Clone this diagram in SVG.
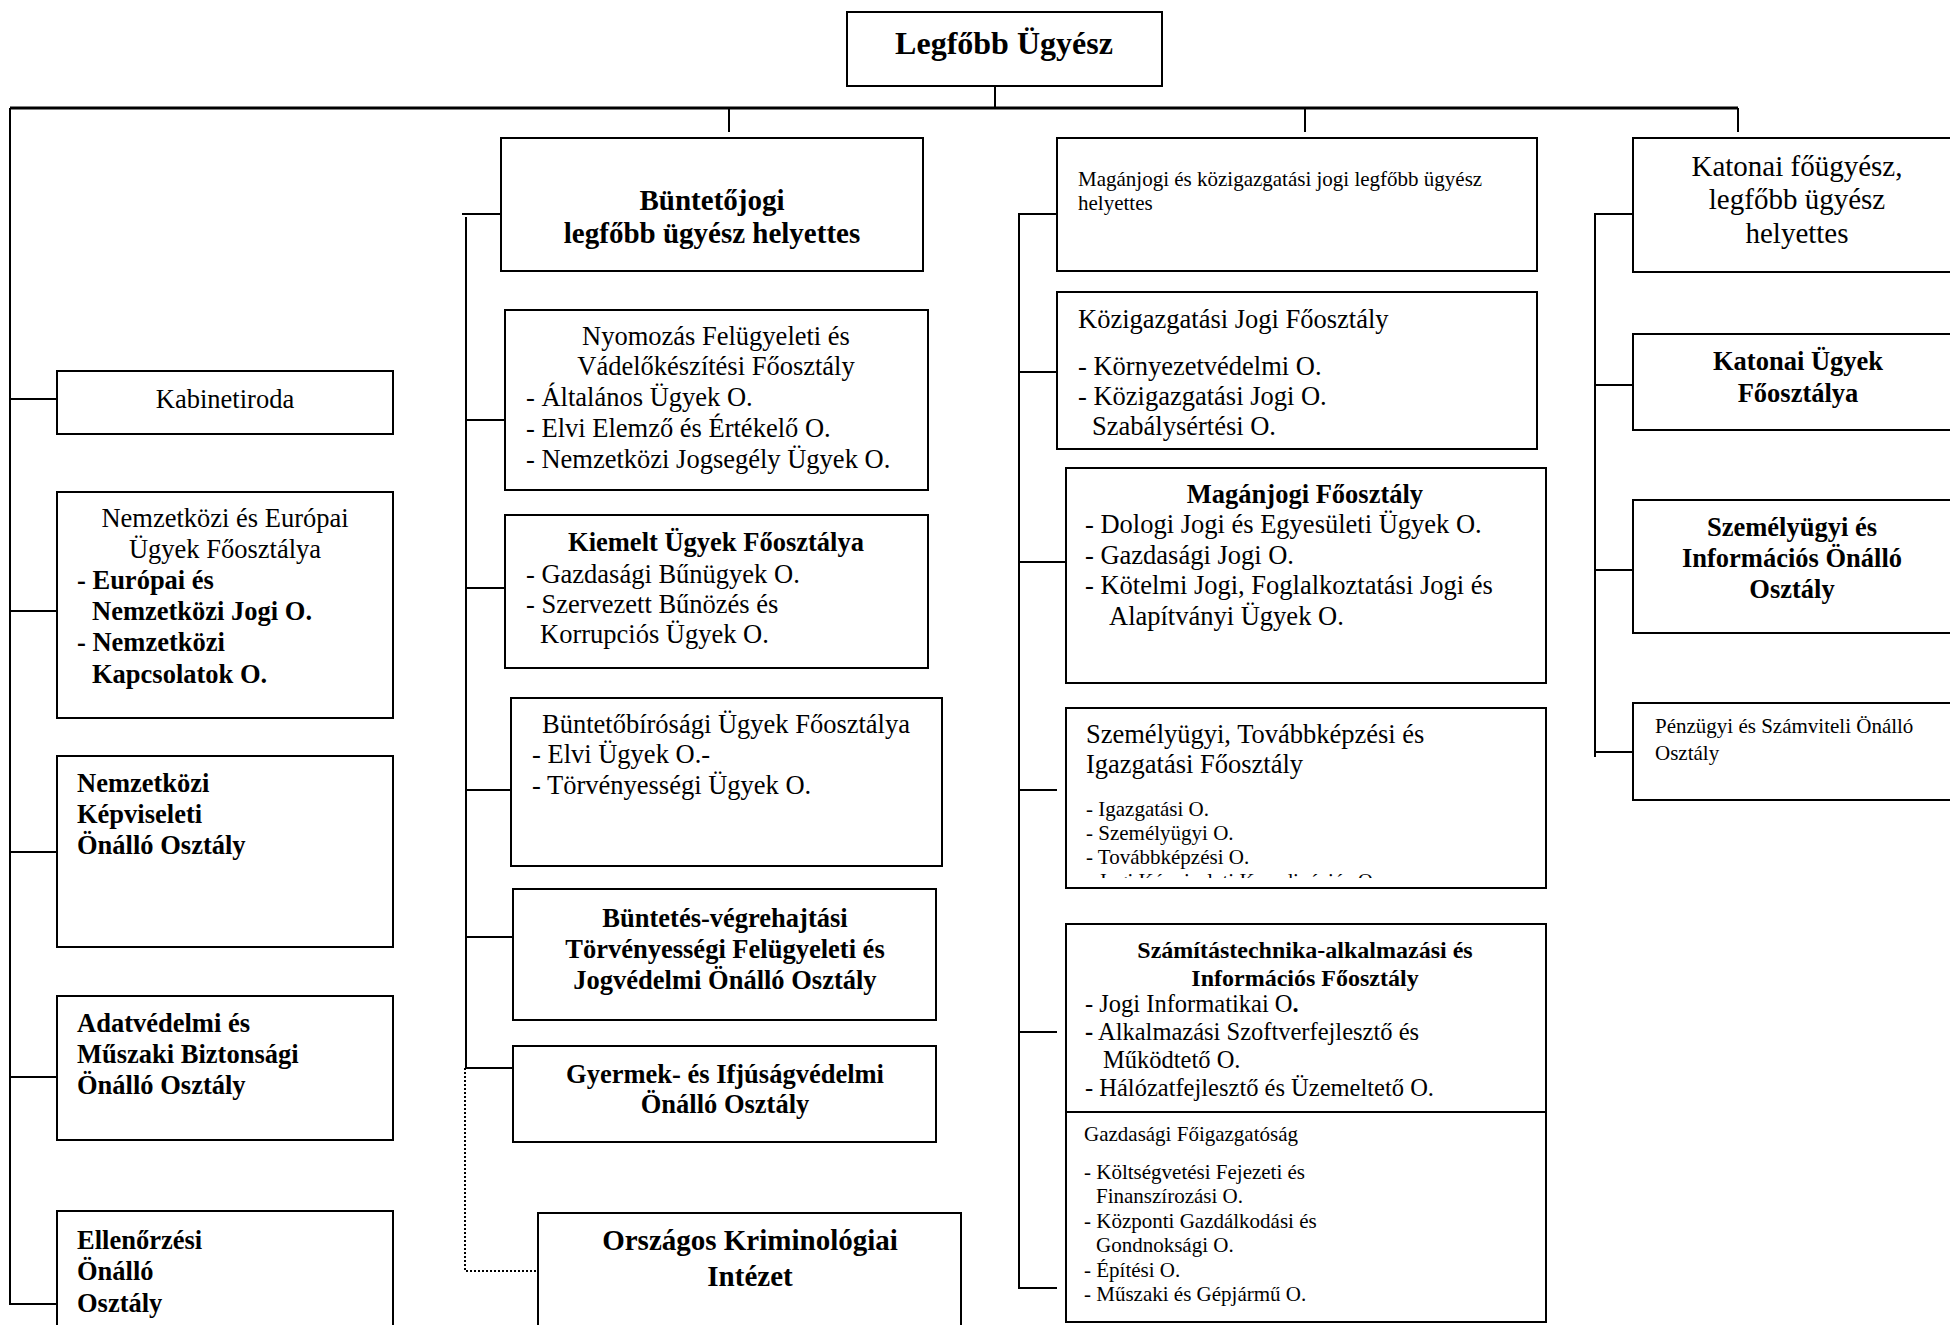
<svg xmlns="http://www.w3.org/2000/svg" width="1950" height="1325" viewBox="0 0 1950 1325">
<style>
.box{fill:#fff;stroke:#000;stroke-width:2}
.ln{stroke:#000;stroke-width:2;fill:none}
.bus{stroke:#000;stroke-width:3;fill:none}
.dot{stroke:#000;stroke-width:2;fill:none;stroke-dasharray:2 2}
text{font-family:"Liberation Serif","Times New Roman",serif;font-size:26.5px;fill:#000}
.b{font-weight:bold}
.c{text-anchor:middle}
.s{font-size:21px}
.m{font-size:24.5px}
.l{font-size:29px}
</style>
<defs>
<clipPath id="clipSzem"><rect x="1066" y="700" width="480" height="178"/></clipPath>
</defs>
<rect width="1950" height="1325" fill="#fff"/>

<g id="connectors">
<line class="ln" x1="995" y1="86" x2="995" y2="108"/>
<line class="bus" x1="10" y1="108" x2="1738" y2="108"/>
<line class="ln" x1="729" y1="108" x2="729" y2="132"/>
<line class="ln" x1="1305" y1="108" x2="1305" y2="132"/>
<line class="ln" x1="1738" y1="108" x2="1738" y2="132"/>
<polyline class="ln" points="10,108 10,1304 57,1304"/>
<line class="ln" x1="10" y1="399" x2="57" y2="399"/>
<line class="ln" x1="10" y1="611" x2="57" y2="611"/>
<line class="ln" x1="10" y1="852" x2="57" y2="852"/>
<line class="ln" x1="10" y1="1077" x2="57" y2="1077"/>
<line class="ln" x1="462" y1="214" x2="501" y2="214"/>
<polyline class="ln" points="466,217 466,1068 513,1068"/>
<line class="ln" x1="466" y1="420" x2="505" y2="420"/>
<line class="ln" x1="466" y1="588" x2="505" y2="588"/>
<line class="ln" x1="466" y1="790" x2="513" y2="790"/>
<line class="ln" x1="466" y1="937" x2="513" y2="937"/>
<polyline class="dot" points="465,1068 465,1271 538,1271"/>
<polyline class="ln" points="1057,214 1019,214 1019,1288 1057,1288"/>
<line class="ln" x1="1019" y1="372" x2="1057" y2="372"/>
<line class="ln" x1="1019" y1="562" x2="1066" y2="562"/>
<line class="ln" x1="1019" y1="790" x2="1057" y2="790"/>
<line class="ln" x1="1019" y1="1032" x2="1057" y2="1032"/>
<polyline class="ln" points="1633,214 1595,214 1595,757"/>
<line class="ln" x1="1595" y1="385" x2="1633" y2="385"/>
<line class="ln" x1="1595" y1="570" x2="1633" y2="570"/>
<line class="ln" x1="1595" y1="752" x2="1633" y2="752"/>
</g>

<g id="legfobb-ugyesz">
<rect class="box" x="847" y="12" width="315" height="74"/>
<text class="b c" x="1004" y="54" style="font-size:32px">Legfőbb Ügyész</text>
</g>

<g id="kabinetiroda">
<rect class="box" x="57" y="371" width="336" height="63"/>
<text class="c" x="225" y="408">Kabinetiroda</text>
</g>
<g id="nemzetkozi-europai">
<rect class="box" x="57" y="492" width="336" height="226"/>
<text class="c" x="225" y="527">Nemzetközi és Európai</text>
<text class="c" x="225" y="558">Ügyek Főosztálya</text>
<text class="b" x="77" y="589">- Európai és</text>
<text class="b" x="92" y="620">Nemzetközi Jogi O.</text>
<text class="b" x="77" y="651">- Nemzetközi</text>
<text class="b" x="92" y="683">Kapcsolatok O.</text>
</g>
<g id="nemzetkozi-kepviseleti">
<rect class="box" x="57" y="756" width="336" height="191"/>
<text class="b" x="77" y="792">Nemzetközi</text>
<text class="b" x="77" y="823">Képviseleti</text>
<text class="b" x="77" y="854">Önálló Osztály</text>
</g>
<g id="adatvedelmi">
<rect class="box" x="57" y="996" width="336" height="144"/>
<text class="b" x="77" y="1032">Adatvédelmi és</text>
<text class="b" x="77" y="1063">Műszaki Biztonsági</text>
<text class="b" x="77" y="1094">Önálló Osztály</text>
</g>
<g id="ellenorzesi">
<rect class="box" x="57" y="1211" width="336" height="130"/>
<text class="b" x="77" y="1249">Ellenőrzési</text>
<text class="b" x="77" y="1280">Önálló</text>
<text class="b" x="77" y="1312">Osztály</text>
</g>

<g id="buntetojogi-helyettes">
<rect class="box" x="501" y="138" width="422" height="133"/>
<text class="b c l" x="712" y="210">Büntetőjogi</text>
<text class="b c l" x="712" y="243">legfőbb ügyész helyettes</text>
</g>
<g id="nyomozas">
<rect class="box" x="505" y="310" width="423" height="180"/>
<text class="c" x="716" y="345">Nyomozás Felügyeleti és</text>
<text class="c" x="716" y="375">Vádelőkészítési Főosztály</text>
<text x="526" y="406">- Általános Ügyek O.</text>
<text x="526" y="437">- Elvi Elemző és Értékelő O.</text>
<text x="526" y="468">- Nemzetközi Jogsegély Ügyek O.</text>
</g>
<g id="kiemelt">
<rect class="box" x="505" y="515" width="423" height="153"/>
<text class="b c" x="716" y="551">Kiemelt Ügyek Főosztálya</text>
<text x="526" y="583">- Gazdasági Bűnügyek O.</text>
<text x="526" y="613">- Szervezett Bűnözés és</text>
<text x="540" y="643">Korrupciós Ügyek O.</text>
</g>
<g id="buntetobirosagi">
<rect class="box" x="511" y="698" width="431" height="168"/>
<text x="542" y="733">Büntetőbírósági Ügyek Főosztálya</text>
<text x="532" y="763">- Elvi Ügyek O.-</text>
<text x="532" y="794">- Törvényességi Ügyek O.</text>
</g>
<g id="buntetes-vegrehajtasi">
<rect class="box" x="513" y="889" width="423" height="131"/>
<text class="b c" x="725" y="927">Büntetés-végrehajtási</text>
<text class="b c" x="725" y="958">Törvényességi Felügyeleti és</text>
<text class="b c" x="725" y="989">Jogvédelmi Önálló Osztály</text>
</g>
<g id="gyermek">
<rect class="box" x="513" y="1046" width="423" height="96"/>
<text class="b c" x="725" y="1083">Gyermek- és Ifjúságvédelmi</text>
<text class="b c" x="725" y="1113">Önálló Osztály</text>
</g>
<g id="orszagos-kriminologiai">
<rect class="box" x="538" y="1213" width="423" height="130"/>
<text class="b c l" x="750" y="1250">Országos Kriminológiai</text>
<text class="b c l" x="750" y="1286">Intézet</text>
</g>

<g id="maganjogi-kozig-helyettes">
<rect class="box" x="1057" y="138" width="480" height="133"/>
<text class="s" x="1078" y="186">Magánjogi és közigazgatási jogi legfőbb ügyész</text>
<text class="s" x="1078" y="210">helyettes</text>
</g>
<g id="kozigazgatasi">
<rect class="box" x="1057" y="292" width="480" height="157"/>
<text x="1078" y="328">Közigazgatási Jogi Főosztály</text>
<text x="1078" y="375">- Környezetvédelmi O.</text>
<text x="1078" y="405">- Közigazgatási Jogi O.</text>
<text x="1092" y="435">Szabálysértési O.</text>
</g>
<g id="maganjogi">
<rect class="box" x="1066" y="468" width="480" height="215"/>
<text class="b c" x="1305" y="503">Magánjogi Főosztály</text>
<text x="1085" y="533">- Dologi Jogi és Egyesületi Ügyek O.</text>
<text x="1085" y="564">- Gazdasági Jogi O.</text>
<text x="1085" y="594">- Kötelmi Jogi, Foglalkoztatási Jogi és</text>
<text x="1109" y="625">Alapítványi Ügyek O.</text>
</g>
<g id="szemelyugyi-tovabbkepzesi">
<rect class="box" x="1066" y="708" width="480" height="180"/>
<text x="1086" y="743">Személyügyi, Továbbképzési és</text>
<text x="1086" y="773">Igazgatási Főosztály</text>
<text class="s" x="1086" y="816">- Igazgatási O.</text>
<text class="s" x="1086" y="840">- Személyügyi O.</text>
<text class="s" x="1086" y="864">- Továbbképzési O.</text>
<text class="s" x="1086" y="888" clip-path="url(#clipSzem)">- Jogi Képviseleti Koordinációs O.</text>
</g>
<g id="szamitastechnika">
<rect class="box" x="1066" y="924" width="480" height="188"/>
<text class="b c" x="1305" y="958" style="font-size:24px">Számítástechnika-alkalmazási és</text>
<text class="b c" x="1305" y="986" style="font-size:24px">Információs Főosztály</text>
<text class="m" x="1085" y="1012">- Jogi Informatikai O<tspan class="b">.</tspan></text>
<text class="m" x="1085" y="1040"><tspan class="b">-</tspan> Alkalmazási Szoftverfejlesztő és</text>
<text class="m" x="1103" y="1068">Működtető O.</text>
<text class="m" x="1085" y="1096">- Hálózatfejlesztő és Üzemeltető O.</text>
</g>
<g id="gazdasagi-foigazgatosag">
<rect class="box" x="1066" y="1112" width="480" height="210"/>
<text class="s" x="1084" y="1141">Gazdasági Főigazgatóság</text>
<text class="s" x="1084" y="1179">- Költségvetési Fejezeti és</text>
<text class="s" x="1096" y="1203">Finanszírozási O.</text>
<text class="s" x="1084" y="1228">- Központi Gazdálkodási és</text>
<text class="s" x="1096" y="1252">Gondnoksági O.</text>
<text class="s" x="1084" y="1277">- Építési O.</text>
<text class="s" x="1084" y="1301">- Műszaki és Gépjármű O.</text>
</g>

<g id="katonai-fougyesz">
<rect class="box" x="1633" y="138" width="330" height="134"/>
<text class="c l" x="1797" y="176">Katonai főügyész,</text>
<text class="c l" x="1797" y="209">legfőbb ügyész</text>
<text class="c l" x="1797" y="243">helyettes</text>
</g>
<g id="katonai-ugyek">
<rect class="box" x="1633" y="334" width="330" height="96"/>
<text class="b c" x="1798" y="370">Katonai Ügyek</text>
<text class="b c" x="1798" y="402">Főosztálya</text>
</g>
<g id="szemelyugyi-informacios">
<rect class="box" x="1633" y="500" width="330" height="133"/>
<text class="b c" x="1792" y="536">Személyügyi és</text>
<text class="b c" x="1792" y="567">Információs Önálló</text>
<text class="b c" x="1792" y="598">Osztály</text>
</g>
<g id="penzugyi">
<rect class="box" x="1633" y="703" width="330" height="97"/>
<text class="s" x="1655" y="733">Pénzügyi és Számviteli Önálló</text>
<text class="s" x="1655" y="760">Osztály</text>
</g>
</svg>
